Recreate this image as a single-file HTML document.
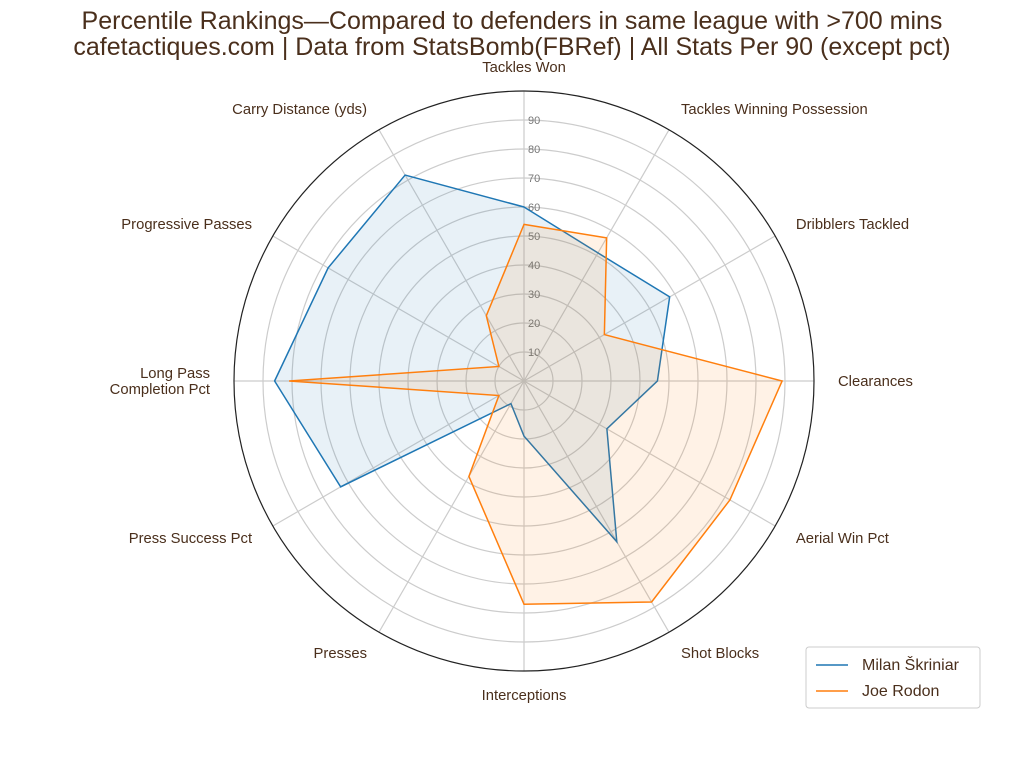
<!DOCTYPE html>
<html><head><meta charset="utf-8"><style>
body{margin:0;background:#fff;}
svg{display:block;font-family:"Liberation Sans",sans-serif;}
</style></head><body>
<svg id="chart" width="1024" height="768">
<text x="512" y="29" text-anchor="middle" font-size="25" fill="#4a2f1c">Percentile Rankings—Compared to defenders in same league with &gt;700 mins</text>
<text x="512" y="55" text-anchor="middle" font-size="25" fill="#4a2f1c">cafetactiques.com | Data from StatsBomb(FBRef) | All Stats Per 90 (except pct)</text>
<g id="grid"></g><g id="series"></g><g id="labels"></g>
<g>
<rect x="806" y="647" width="174" height="61" rx="3" fill="#fff" stroke="#ccc"/>
<line x1="816" y1="665" x2="848" y2="665" stroke="#1f77b4" stroke-width="1.5"/>
<text x="862" y="670" font-size="16" fill="#4a2f1c">Milan Škriniar</text>
<line x1="816" y1="691" x2="848" y2="691" stroke="#ff7f0e" stroke-width="1.5"/>
<text x="862" y="696" font-size="16" fill="#4a2f1c">Joe Rodon</text>
</g>
</svg>
<script>
const categories=["Tackles Won","Tackles Winning Possession","Dribblers Tackled","Clearances","Aerial Win Pct","Shot Blocks","Interceptions","Presses","Press Success Pct","Long Pass\nCompletion Pct","Progressive Passes","Carry Distance (yds)"];
const skriniar=[60,51,58,46,33,64,19,9,73,86,78,82];
const rodon=[54,57,32,89,82,88,77,38,10,81,10,26];
const ringTicks=[10,20,30,40,50,60,70,80,90];
const NS="http://www.w3.org/2000/svg",cx=524,cy=381,R=290;
const rScale=v=>v/100*R;
const pt=(i,v)=>{const a=i*2*Math.PI/categories.length;return [cx+rScale(v)*Math.sin(a),cy-rScale(v)*Math.cos(a)];};
function mk(tag,attrs,parent){const e=document.createElementNS(NS,tag);for(const k in attrs)e.setAttribute(k,attrs[k]);parent.appendChild(e);return e;}
const grid=document.getElementById('grid');
ringTicks.forEach(t=>{const c=mk('circle',{cx,cy,r:rScale(t),fill:'none',stroke:'#cccccc','stroke-width':1.2},grid);


const tx=mk('text',{x:cx+4,y:cy-rScale(t)+4,'font-size':11,fill:'#777'},grid);tx.textContent=t;

});
categories.forEach((c,i)=>{const [x,y]=pt(i,100);const l=mk('line',{x1:cx,y1:cy,x2:x,y2:y,stroke:'#cccccc','stroke-width':1.2},grid);

});
const outer=mk('circle',{cx,cy,r:R,fill:'none',stroke:'#222','stroke-width':1.2},grid);


const ser=document.getElementById('series');
[[skriniar,'#1f77b4','skriniar'],[rodon,'#ff7f0e','rodon']].forEach(([d,col,n])=>{
const p=d.map((v,i)=>pt(i,v).join(',')).join(' ');
const pg=mk('polygon',{points:p,fill:col,'fill-opacity':0.1,stroke:col,'stroke-width':1.5},ser);

});
const lab=document.getElementById('labels');
categories.forEach((c,i)=>{const a=i*2*Math.PI/categories.length;const s=Math.sin(a);
const x=cx+314*s,y=cy-314*Math.cos(a);
const anchor=s>0.1?'start':(s<-0.1?'end':'middle');
const lines=c.split('\n');
const t=mk('text',{x,y:y+5-(lines.length-1)*8,'text-anchor':anchor,'font-size':14.8,fill:'#4a2f1c'},lab);


lines.forEach((ln,j)=>{const ts=mk('tspan',{x,dy:j?16:0},t);ts.textContent=ln;});});
</script>
</body></html>
